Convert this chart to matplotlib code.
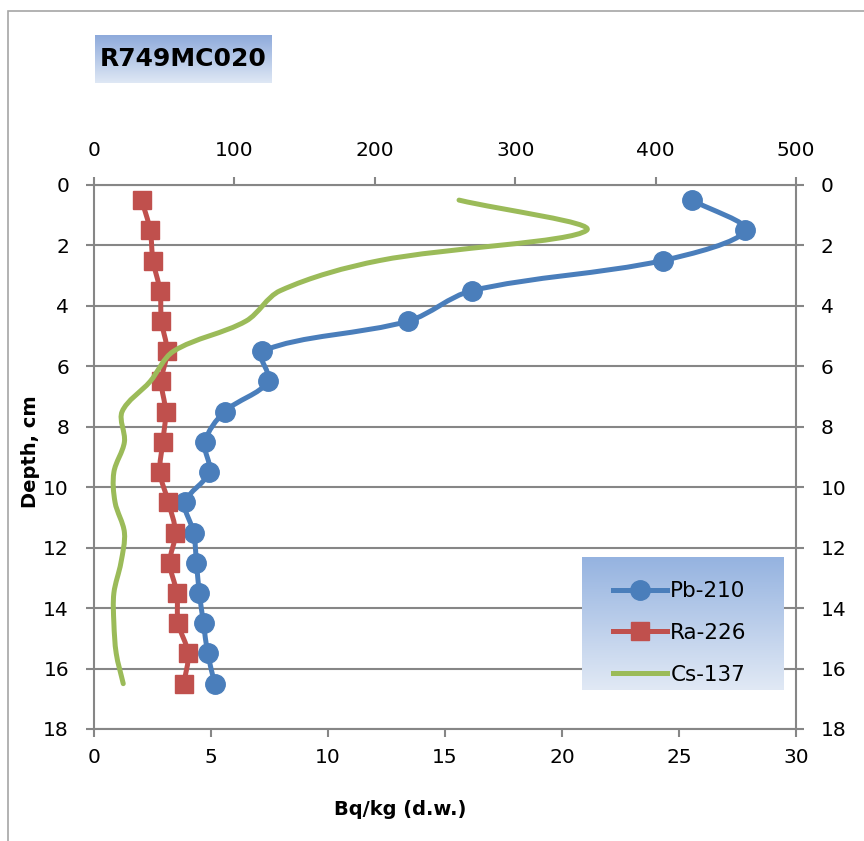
import numpy as np
import matplotlib
matplotlib.use('Agg')
import matplotlib.pyplot as plt
from matplotlib.path import Path
from matplotlib.patches import PathPatch, Rectangle
from matplotlib.lines import Line2D
from matplotlib.colors import LinearSegmentedColormap

# Core R749MC020 - activity profiles vs depth
depth = [0.5, 1.5, 2.5, 3.5, 4.5, 5.5, 6.5, 7.5, 8.5, 9.5, 10.5, 11.5, 12.5, 13.5, 14.5, 15.5, 16.5]
pb210 = [426, 464, 405, 269, 224, 120, 124, 93, 79, 82, 65, 71, 73, 75, 78, 81, 86]
ra226 = [34, 40, 42, 47, 48, 52, 48, 51, 49, 47, 53, 58, 54, 59, 60, 67, 64]
cs137 = [15.6, 21.05, 12.2, 7.95, 6.5, 3.4, 2.4, 1.2, 1.3, 0.85, 0.9, 1.3, 1.15, 0.85, 0.85, 0.95, 1.25]

top_ticks = [0, 100, 200, 300, 400, 500]
bottom_ticks = [0, 5, 10, 15, 20, 25, 30]
depth_ticks = [0, 2, 4, 6, 8, 10, 12, 14, 16, 18]

BLUE = '#4a7ebb'
RED = '#c0504d'
GREEN = '#9bbb59'
AXIS_GREY = '#868686'

plt.rcParams['font.family'] = ['DejaVu Sans']

W, H = 864, 841
PLOT_W, PLOT_H = 702, 544


def smooth_path(x, y, xmax, ymax):
    # smoothed line through the points (cubic bezier), tangents weighted
    # by neighbouring segment lengths measured in screen units
    scale = np.array([PLOT_W / xmax, PLOT_H / ymax])
    pts = np.column_stack([x, y]).astype(float) * scale
    n = len(pts)
    verts = [pts[0]]
    codes = [Path.MOVETO]

    def ctrl(i, toward):
        prev = pts[max(i - 1, 0)]
        nxt = pts[min(i + 1, n - 1)]
        d = nxt - prev
        l_prev = np.hypot(*(pts[i] - prev))
        l_next = np.hypot(*(nxt - pts[i]))
        total = l_prev + l_next
        if total == 0:
            return pts[i]
        if toward > 0:
            return pts[i] + d * l_next / total / 3
        return pts[i] - d * l_prev / total / 3

    for i in range(n - 1):
        verts += [ctrl(i, 1), ctrl(i + 1, -1), pts[i + 1]]
        codes += [Path.CURVE4] * 3
    return Path(np.array(verts) / scale, codes)


def gradient_box(fig, rect, top, bottom):
    bax = fig.add_axes(rect)
    cmap = LinearSegmentedColormap.from_list('grad', [bottom, top])
    grad = np.linspace(0, 1, 256).reshape(-1, 1)
    bax.imshow(grad, aspect='auto', cmap=cmap, origin='lower', extent=[0, 1, 0, 1])
    bax.set_axis_off()
    return bax


fig = plt.figure(figsize=(W / 100, H / 100), dpi=100)

# outer chart border
fig.add_artist(Rectangle((8 / W, -0.1), 1.5, 1 - 11 / H + 0.1, transform=fig.transFigure,
                         fill=False, ec='#a6a6a6', lw=1.2))

ax = fig.add_axes([94 / W, 112 / H, PLOT_W / W, PLOT_H / H])
ax_cs = ax.twiny()

ax.set_xlim(0, 500)
ax.set_ylim(18, 0)
ax.xaxis.tick_top()
ax.set_xticks(top_ticks)
ax.set_yticks(depth_ticks)
ax.yaxis.grid(True, color=AXIS_GREY, lw=1.5)
ax.set_axisbelow(True)
ax.tick_params(axis='y', left=True, right=True, labelleft=True, labelright=True)
ax.tick_params(direction='out', length=6, width=1.5, color=AXIS_GREY, labelsize=14.5, pad=12)
for sp in ax.spines.values():
    sp.set_color(AXIS_GREY)
    sp.set_linewidth(1.5)

ax.add_patch(PathPatch(smooth_path(pb210, depth, 500, 18), fill=False, ec=BLUE, lw=3.6,
                       capstyle='round', joinstyle='round', zorder=2))
ax.plot(pb210, depth, 'o', ms=14, color=BLUE, mec=BLUE, zorder=3)
ax.add_patch(PathPatch(smooth_path(ra226, depth, 500, 18), fill=False, ec=RED, lw=3.6,
                       capstyle='round', joinstyle='round', zorder=4))
ax.plot(ra226, depth, 's', ms=13.5, color=RED, mec=RED, zorder=5)

ax.set_ylabel('Depth, cm', fontsize=14, fontweight='bold')
ax.yaxis.set_label_coords(-0.077, 0.509)

# Cs-137 on the bottom axis
ax_cs.set_xlim(0, 30)
ax_cs.xaxis.tick_bottom()
ax_cs.xaxis.set_label_position('bottom')
ax_cs.set_xticks(bottom_ticks)
ax_cs.tick_params(direction='out', length=6, width=1.5, color=AXIS_GREY, labelsize=14.5, pad=8)
for sp in ax_cs.spines.values():
    sp.set_visible(False)
ax_cs.add_patch(PathPatch(smooth_path(cs137, depth, 30, 18), fill=False, ec=GREEN, lw=3.6,
                          capstyle='round', joinstyle='round', zorder=2))
ax_cs.set_xlabel('Bq/kg (d.w.)', fontsize=14, fontweight='bold')
ax_cs.xaxis.set_label_coords(0.436, -0.13)

# title box
tax = gradient_box(fig, [95 / W, 1 - 83 / H, 177 / W, 48 / H], '#8eaadb', '#dfe8f5')
tax.text(0.5, 0.5, 'R749MC020', ha='center', va='center', fontsize=18, fontweight='bold',
         transform=tax.transAxes)

# legend box
gradient_box(fig, [582 / W, 1 - 690 / H, 202 / W, 133 / H], '#95b3e0', '#e1e9f5')
handles = [
    Line2D([], [], color=BLUE, lw=3.6, marker='o', ms=14),
    Line2D([], [], color=RED, lw=3.6, marker='s', ms=13.5),
    Line2D([], [], color=GREEN, lw=3.6),
]
fig.legend(handles, ['Pb-210', 'Ra-226', 'Cs-137'], loc='center',
           bbox_to_anchor=(680 / W, 1 - 633 / H), frameon=False, fontsize=15.5,
           handlelength=2.5, handletextpad=0.15, labelspacing=1.0)

fig.savefig('out.png', dpi=100)
